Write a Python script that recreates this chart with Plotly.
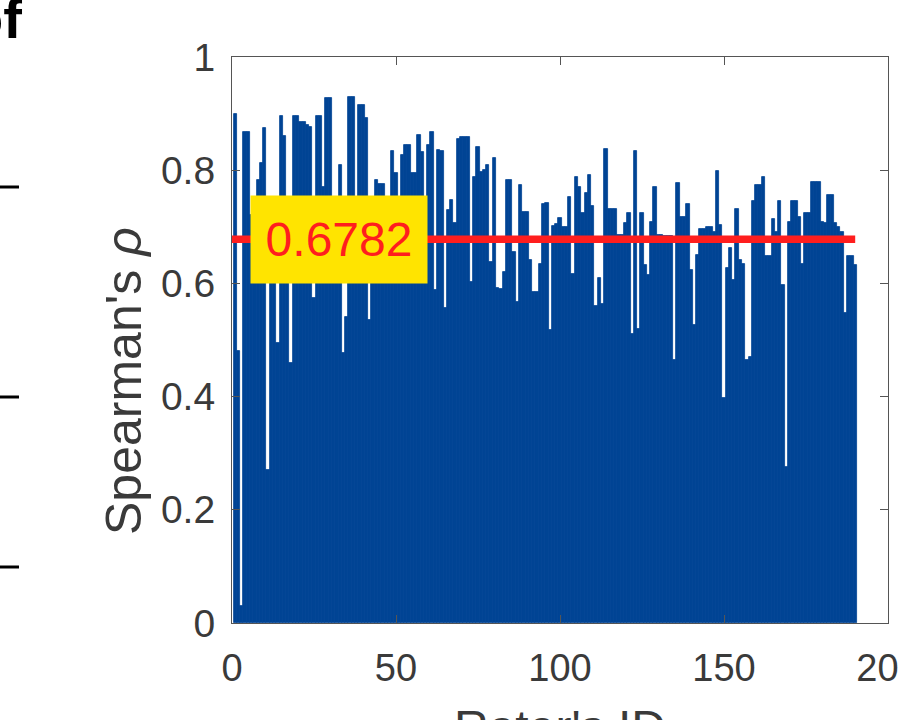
import plotly.graph_objects as go

# ---- data ----
rater_ids = list(range(1, 191))
rho = [
    0.900, 0.480, 0.030, 0.868, 0.868, 0.720, 0.700, 0.783, 0.813, 0.874,
    0.270, 0.660, 0.740, 0.495, 0.895, 0.860, 0.690, 0.460, 0.895, 0.895,
    0.886, 0.886, 0.880, 0.877, 0.574, 0.895, 0.895, 0.771, 0.927, 0.927,
    0.730, 0.710, 0.810, 0.477, 0.540, 0.930, 0.930, 0.680, 0.915, 0.915,
    0.892, 0.535, 0.750, 0.783, 0.775, 0.775, 0.700, 0.670, 0.834, 0.795,
    0.720, 0.826, 0.845, 0.845, 0.795, 0.795, 0.862, 0.833, 0.690, 0.844,
    0.868, 0.588, 0.836, 0.834, 0.557, 0.730, 0.747, 0.706, 0.856, 0.859,
    0.859, 0.859, 0.603, 0.788, 0.841, 0.797, 0.800, 0.809, 0.638, 0.821,
    0.592, 0.590, 0.620, 0.783, 0.783, 0.655, 0.567, 0.774, 0.726, 0.726,
    0.641, 0.585, 0.585, 0.635, 0.740, 0.742, 0.518, 0.701, 0.705, 0.715,
    0.700, 0.700, 0.753, 0.617, 0.788, 0.771, 0.724, 0.760, 0.792, 0.736,
    0.560, 0.609, 0.564, 0.838, 0.731, 0.731, 0.731, 0.686, 0.686, 0.706,
    0.724, 0.510, 0.834, 0.520, 0.724, 0.633, 0.615, 0.709, 0.770, 0.686,
    0.685, 0.683, 0.683, 0.684, 0.465, 0.777, 0.718, 0.718, 0.740, 0.623,
    0.526, 0.650, 0.697, 0.697, 0.700, 0.700, 0.690, 0.798, 0.703, 0.397,
    0.627, 0.662, 0.606, 0.731, 0.641, 0.635, 0.465, 0.470, 0.745, 0.774,
    0.774, 0.788, 0.649, 0.649, 0.714, 0.690, 0.745, 0.597, 0.276, 0.709,
    0.745, 0.745, 0.718, 0.635, 0.724, 0.724, 0.779, 0.779, 0.779, 0.709,
    0.706, 0.757, 0.757, 0.706, 0.700, 0.690, 0.547, 0.649, 0.649, 0.633,
]
mean_rho = 0.6782
x_ticks = [0, 50, 100, 150, 200]
x_tick_labels = ["0", "50", "100", "150", "200"]
y_ticks = [0, 0.2, 0.4, 0.6, 0.8, 1]
y_tick_labels = ["0", "0.2", "0.4", "0.6", "0.8", "1"]

BLUE = "#004494"
RED = "#FF1E1E"
YELLOW = "#FFE400"
AXC = "#555555"
TXT = "#3a3a3a"
FONT = "Liberation Sans, Arial, sans-serif"

fig = go.Figure()
fig.add_trace(go.Bar(
    x=rater_ids, y=rho,
    marker=dict(color=BLUE, line=dict(color=BLUE, width=0.8)),
    width=1.0, hoverinfo="x+y", showlegend=False,
))
fig.add_trace(go.Scatter(
    x=[0, len(rater_ids)], y=[mean_rho, mean_rho], mode="lines",
    line=dict(color=RED, width=7.5), showlegend=False, hoverinfo="skip",
))

# pixel -> paper helpers for decorations
L, R, T, B = 232, 11, 57, 97
W, H = 899 - L - R, 720 - T - B


def px(xp):
    return (xp - L) / W


def py(yp):
    return (720 - B - yp) / H


annotations = [
    dict(x=32.5, y=mean_rho, xref="x", yref="y", text="0.6782", showarrow=False,
         font=dict(family=FONT, size=48, color=RED), bgcolor=YELLOW,
         width=176, height=87, borderpad=0, align="center", valign="middle",
         xanchor="center", yanchor="middle"),
    dict(x=px(124), y=py(381), xref="paper", yref="paper",
         text="Spearman's <i>ρ</i>", textangle=-90, showarrow=False,
         font=dict(family=FONT, size=50, color=TXT),
         xanchor="center", yanchor="middle"),
    dict(x=0.5, y=py(699), xref="paper", yref="paper", text="Rater's ID",
         showarrow=False, font=dict(family=FONT, size=48, color=TXT),
         xanchor="center", yanchor="top"),
    dict(x=px(24), y=py(52), xref="paper", yref="paper", text="<b>of</b>",
         showarrow=False, font=dict(family=FONT, size=56, color="black"),
         xanchor="right", yanchor="bottom"),
]

shapes = []
for yy in (187, 397, 567):
    shapes.append(dict(type="line", xref="paper", yref="paper",
                       x0=px(0), x1=px(19), y0=py(yy), y1=py(yy),
                       line=dict(color="black", width=3)))

fig.update_layout(
    width=899, height=720,
    margin=dict(l=L, r=R, t=T, b=B, autoexpand=False),
    paper_bgcolor="white", plot_bgcolor="white",
    bargap=0,
    annotations=annotations, shapes=shapes,
    font=dict(family=FONT, color=TXT),
)
fig.update_xaxes(
    range=[0, 200], tickvals=x_ticks, ticktext=x_tick_labels,
    ticks="inside", ticklen=8, tickwidth=1.2, tickcolor=AXC,
    showline=True, linecolor=AXC, linewidth=1.2, mirror="ticks",
    showgrid=False, zeroline=False, ticklabeloverflow="allow", automargin=False,
    tickfont=dict(family=FONT, size=38, color=TXT), ticklabelstandoff=11,
)
fig.update_yaxes(
    range=[0, 1], tickvals=y_ticks, ticktext=y_tick_labels,
    ticks="inside", ticklen=8, tickwidth=1.2, tickcolor=AXC,
    showline=True, linecolor=AXC, linewidth=1.2, mirror="ticks",
    showgrid=False, zeroline=False, ticklabeloverflow="allow", automargin=False,
    tickfont=dict(family=FONT, size=39, color=TXT), ticklabelstandoff=8,
)

fig.write_html("out.html", config={"displayModeBar": False},
               post_script="document.body.style.margin='0px';")
